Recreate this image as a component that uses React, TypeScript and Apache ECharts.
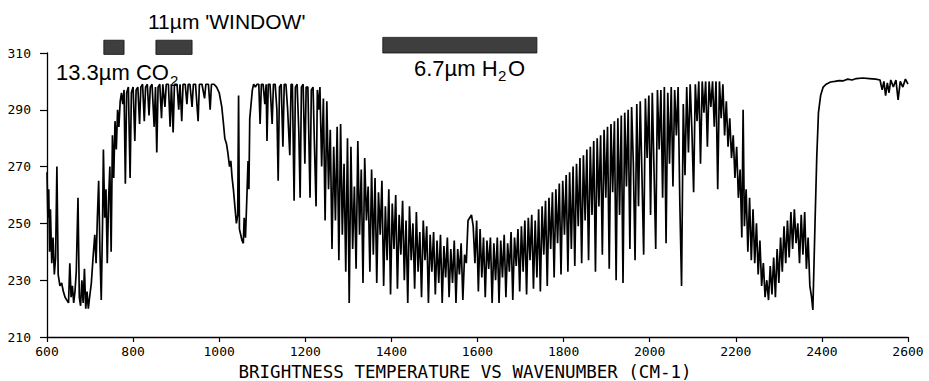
import React, { useEffect, useRef } from 'react';
import * as echarts from 'echarts';

// Wavenumber (cm-1), brightness temperature (K)
const co2Band: number[][] = [
  [600,268],[602,252],[604,262],[606,240],[608,255],[611,236],[614,245],[617,232],[620,238],[623,270],[626,232],[630,228],[634,229],[638,226],[642,224],[646,223],[650,222],[653,236],[656,224],[659,228],[662,222],[665,226],[668,233],[672,259],[675,224],[678,221],[681,230],[684,222],[687,234],[690,220],[693,226],[696,220],[699,224],[703,229],[707,238],[711,246],[714,236],[717,252],[720,265],[723,240],[726,223],[729,250],[731,276],[734,252],[737,262],[740,236],[743,258],[746,270],[749,240],[752,281],[755,266],[758,286],[761,276],[764,290],[767,284],[770,293]
];
const windowBand: number[][] = [
  [773,296],[776,292],[779,297],[782,264],[785,296],[789,298],[793,266],[796,296],[800,298],[804,279],[807,297],[811,298],[815,285],[818,298],[822,299],[826,286],[829,298],[833,299],[837,288],[840,298],[844,299],[849,284],[852,298],[855,275],[858,298],[862,299],[866,287],[869,299],[874,291],[877,299],[882,299],[886,284],[889,299],[893,282],[896,299],[902,299],[906,290],[909,299],[913,286],[916,299],[921,299],[925,292],[928,299],[932,299],[937,291],[940,299],[945,299],[951,286],[954,299],[960,299],[966,294],[969,299],[975,299],[979,290],[982,299],[988,299],[994,298],[1000,296]
];
const ozoneBand: number[][] = [
  [1006,291],[1010,285],[1013,280],[1017,278],[1020,275],[1024,270],[1027,272],[1030,266],[1033,262],[1037,255],[1040,250],[1043,253],[1045,295],[1047,248],[1050,246],[1053,244],[1056,243],[1058,252],[1061,245],[1064,258],[1067,272],[1069,262],[1071,287],[1074,292],[1077,297],[1080,299]
];
const window2Band: number[][] = [
  [1084,298],[1088,299],[1092,299],[1095,285],[1098,299],[1102,299],[1106,292],[1109,299],[1111,279],[1114,299],[1118,299],[1123,285],[1126,299],[1130,299],[1134,290],[1137,265],[1140,298],[1144,299],[1148,277],[1151,299],[1155,299],[1159,290],[1164,274],[1167,299],[1170,299],[1174,258],[1177,298],[1181,299],[1185,282],[1188,259],[1191,298],[1195,299],[1199,271],[1202,298],[1206,298],[1211,259],[1214,297],[1218,298],[1221,279],[1225,256],[1228,297],[1231,290],[1234,298],[1238,270],[1242,294],[1246,251],[1250,293]
];
const waterBandLow: number[][] = [
  [1254,262],[1258,283],[1262,241],[1266,277],[1270,251],[1274,284],[1278,237],[1282,285],[1286,246],[1290,271],[1294,233],[1298,280],[1302,222],[1306,277],[1310,241],[1314,263],[1318,234],[1322,279],[1326,246],[1330,269],[1334,229],[1338,273],[1342,251],[1346,263],[1350,233],[1354,269],[1358,239],[1362,266],[1366,229],[1370,261],[1374,246],[1378,265],[1382,228],[1386,256],[1390,237],[1394,262],[1398,225],[1402,257],[1406,241],[1410,260],[1414,227],[1418,253],[1422,239],[1426,258],[1430,230],[1434,251],[1438,222],[1442,256],[1446,237],[1450,250],[1454,227],[1458,254],[1462,233],[1466,247],[1470,224],[1474,251],[1478,237],[1482,249],[1486,222],[1490,246],[1494,233],[1498,247],[1502,225],[1506,244],[1510,229],[1514,246],[1518,222],[1522,242],[1526,231],[1530,245],[1534,224],[1538,241],[1542,229],[1546,244],[1550,222],[1554,241],[1558,232],[1562,243],[1566,223],[1570,239],[1574,236],[1578,251]
];
const waterBandMid: number[][] = [
  [1582,252],[1586,253],[1590,249],[1594,236],[1598,251],[1602,226],[1606,248],[1610,231],[1614,245],[1618,224],[1622,244],[1626,234],[1630,245],[1634,222],[1638,243],[1642,230],[1646,245],[1650,222],[1654,244],[1658,231],[1662,246],[1666,224],[1670,243],[1674,233],[1678,247],[1682,223],[1686,245],[1690,235],[1694,248],[1698,226],[1702,249],[1706,233],[1710,251],[1714,225],[1718,252],[1722,237],[1726,253],[1730,227],[1734,251],[1738,231],[1742,255],[1746,226],[1750,256],[1754,239],[1758,258],[1762,228],[1766,259],[1770,241],[1774,261],[1778,231],[1782,262],[1786,243],[1790,264],[1794,232],[1798,265],[1802,246],[1806,267],[1810,233],[1814,268],[1818,241],[1822,270],[1826,235],[1830,271],[1834,249],[1838,273],[1842,236],[1846,274],[1850,251],[1854,276],[1858,237],[1862,277],[1866,253],[1870,279],[1874,233],[1878,280],[1882,256],[1886,281],[1890,239],[1894,283],[1898,259],[1902,284],[1906,234],[1910,285],[1914,261],[1918,286]
];
const waterBandHigh: number[][] = [
  [1922,230],[1926,287],[1930,253],[1934,288],[1938,229],[1942,289],[1946,263],[1950,290],[1954,241],[1958,291],[1962,271],[1966,237],[1970,292],[1974,256],[1978,293],[1982,267],[1986,239],[1990,294],[1994,273],[1998,295],[2002,253],[2006,296],[2010,269],[2014,241],[2018,297],[2022,276],[2026,297],[2030,259],[2034,298],[2038,243],[2042,296],[2046,271],[2050,298],[2054,263],[2058,297],[2062,281],[2066,298],[2070,257],[2074,228],[2078,292],[2082,267],[2086,298],[2090,275],[2094,299],[2098,283],[2102,261],[2106,299],[2110,286],[2114,300],[2118,271],[2122,300],[2126,289],[2130,300],[2134,277],[2138,300],[2142,291],[2146,300],[2150,284],[2154,300],[2158,262],[2162,300],[2166,287],[2170,299],[2174,281],[2178,293],[2182,277],[2186,287],[2190,273],[2194,281],[2198,266],[2202,277],[2206,259],[2210,269],[2214,245],[2217,290],[2220,249]
];
const n2oBand: number[][] = [
  [2224,262],[2228,240],[2232,259],[2236,237],[2240,255],[2244,236],[2248,250],[2252,232],[2256,244],[2260,228],[2264,236],[2268,224],[2272,230],[2276,223],[2280,235],[2284,225],[2288,238],[2292,224],[2296,241],[2300,229],[2304,245],[2308,233],[2312,249],[2316,236],[2320,251],[2324,238],[2328,254],[2332,241],[2336,255],[2340,243],[2344,250],[2348,236],[2352,253],[2356,239],[2360,254],[2364,234],[2368,245],[2372,228],[2376,224],[2379,219.5]
];
const shortwaveWindow: number[][] = [
  [2384,250],[2388,273],[2392,289],[2397,295],[2403,298],[2410,299],[2420,299.8],[2430,300],[2440,300.3],[2450,300.2],[2460,300.8],[2470,300.5],[2480,301],[2495,301.2],[2510,301],[2525,300.8],[2535,300.5],[2540,297],[2544,300],[2548,295],[2552,299.5],[2556,296],[2560,300.5],[2566,298],[2572,300.5],[2577,293.5],[2582,300],[2588,298],[2594,300.8],[2600,299]
];

// Absorption-band markers: [start wn, end wn, low K, high K]
const bandBars: number[][] = [
  [732, 779, 309.5, 314.5],
  [853, 937, 309.5, 314.5],
  [1380, 1738, 310, 315.5],
];

const yMin = 210, yMax = 310, yStep = 20;
const xMin = 600, xMax = 2600, xStep = 200;

const spectrum = [
  ...co2Band, ...windowBand, ...ozoneBand, ...window2Band,
  ...waterBandLow, ...waterBandMid, ...waterBandHigh, ...n2oBand, ...shortwaveWindow,
];

const sans = '"Liberation Sans", Arial, Helvetica, sans-serif';
const mono = '"DejaVu Sans Mono", monospace';

export default function App() {
  const ref = useRef<HTMLDivElement>(null);
  useEffect(() => {
    const chart = echarts.init(ref.current!, null, { renderer: 'svg' });
    chart.setOption({
      animation: false,
      backgroundColor: '#ffffff',
      grid: { left: 47, right: 21, top: 53, bottom: 44 },
      xAxis: {
        type: 'value', min: xMin, max: xMax, interval: xStep,
        axisLine: { lineStyle: { color: '#000', width: 1.3 } },
        axisTick: { length: 5, lineStyle: { color: '#000', width: 1.2 } },
        axisLabel: { color: '#000', fontFamily: mono, fontSize: 13, margin: 8, formatter: (v: number) => String(v) },
        splitLine: { show: false },
      },
      yAxis: {
        type: 'value', min: yMin, max: yMax, interval: yStep,
        axisLine: { show: true, lineStyle: { color: '#000', width: 1.3 } },
        axisTick: { show: true, length: 7, lineStyle: { color: '#000', width: 1.2 } },
        axisLabel: { color: '#000', fontFamily: mono, fontSize: 13, margin: 16, formatter: (v: number) => String(v) },
        splitLine: { show: false },
      },
      series: [
        {
          type: 'line',
          data: spectrum,
          showSymbol: false,
          symbol: 'none',
          lineStyle: { color: '#000', width: 1.7 },
          clip: false,
        },
        {
          type: 'custom',
          data: bandBars,
          clip: false,
          renderItem: (params: any, api: any) => {
            const p0 = api.coord([api.value(0), api.value(2)]);
            const p1 = api.coord([api.value(1), api.value(3)]);
            return {
              type: 'rect',
              shape: { x: p0[0], y: p1[1], width: p1[0] - p0[0], height: p0[1] - p1[1] },
              style: { fill: '#3e3e3e', stroke: '#111', lineWidth: 0.8 },
            };
          },
        },
      ],
      graphic: [
        { type: 'text', x: 148, y: 21.5, style: { text: "11µm 'WINDOW'", fontFamily: sans, fontSize: 21, fill: '#000', align: 'left', verticalAlign: 'middle' } },
        { type: 'text', x: 56, y: 72, style: { text: '13.3µm CO', fontFamily: sans, fontSize: 22, fill: '#000', align: 'left', verticalAlign: 'middle' } },
        { type: 'text', x: 170, y: 80, style: { text: '2', fontFamily: sans, fontSize: 15, fill: '#000', align: 'left', verticalAlign: 'middle' } },
        { type: 'text', x: 414, y: 68.5, style: { text: '6.7µm H', fontFamily: sans, fontSize: 22, fill: '#000', align: 'left', verticalAlign: 'middle' } },
        { type: 'text', x: 498, y: 75.5, style: { text: '2', fontFamily: sans, fontSize: 15, fill: '#000', align: 'left', verticalAlign: 'middle' } },
        { type: 'text', x: 508, y: 68.5, style: { text: 'O', fontFamily: sans, fontSize: 22, fill: '#000', align: 'left', verticalAlign: 'middle' } },
        { type: 'text', x: 465, y: 371.5, style: { text: 'BRIGHTNESS TEMPERATURE VS WAVENUMBER (CM-1)', fontFamily: mono, fontSize: 17.5, fill: '#000', align: 'center', verticalAlign: 'middle' } },
      ],
    });
    return () => chart.dispose();
  }, []);
  return (
    <div
      ref={ref}
      style={{ position: 'fixed', left: 0, top: 0, width: 929, height: 381, background: '#fff' }}
    />
  );
}
